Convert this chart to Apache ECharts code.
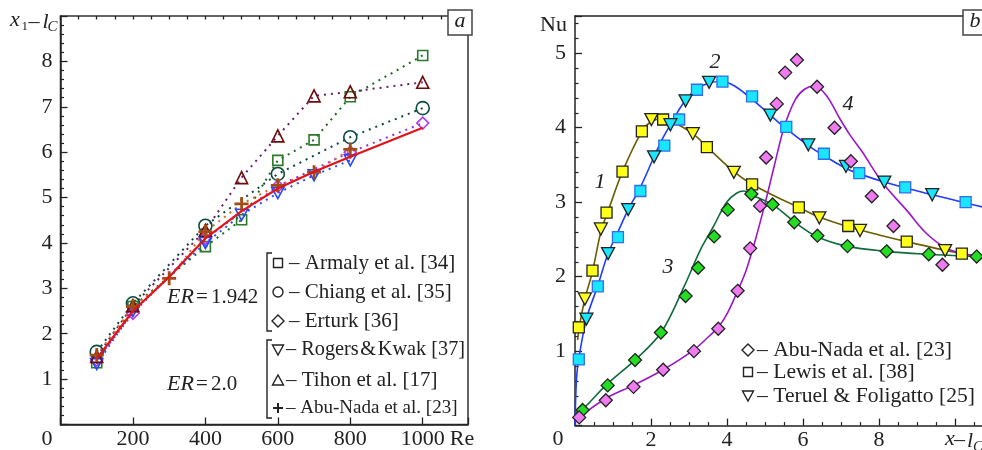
<!DOCTYPE html>
<html><head><meta charset="utf-8">
<script src="https://cdn.jsdelivr.net/npm/echarts@6/dist/echarts.min.js"></script>
<style>html,body{margin:0;padding:0;background:#fff}#c{width:982px;height:450px}</style>
</head><body><div id="c"></div>
<script>
// ---------- Panel a : x1 - lC versus Re ----------
const reArmaly = [100,200,400,500,600,700,800,1000];
const armaly   = [1.36,2.6,3.92,4.51,5.82,6.27,7.22,8.13];
const reChiang = [100,200,400,600,800,1000];
const chiang   = [1.6,2.67,4.38,5.52,6.33,6.97];
const reErturk = [100,200,400,600,800,1000];
const erturk   = [1.42,2.45,4.1,5.25,6.0,6.64];
const reRogers = [100,200,400,500,600,700,800];
const rogers   = [1.33,2.5,4.0,4.62,5.1,5.49,5.82];
const reTihon  = [100,200,400,500,600,700,800,1000];
const tihon    = [1.5,2.62,4.28,5.44,6.36,7.24,7.33,7.54];
const reAbuNada = [100,200,300,400,500,600,700,800];
const abuNada   = [1.53,2.6,3.22,4.25,4.86,5.27,5.56,6.06];
const rePresent = [100,200,300,400,500,600,700,800,1000];
const present   = [1.45,2.5,3.25,4.1,4.7,5.2,5.57,5.9,6.54];
const reTicks = [200,400,600,800,1000];
const aTicks  = [1,2,3,4,5,6,7,8];

// ---------- Panel b : Nu versus x - lC ----------
const sq1X = [0.1,0.46,0.83,1.25,1.76,2.32,3.47,4.66,5.89,7.19,8.73,10.18];
const sq1Y = [1.32,2.08,2.86,3.41,3.95,4.11,3.74,3.24,2.93,2.68,2.47,2.31];
const tr1X = [0.26,0.68,2.01,3.10,4.18,6.43,7.5,9.74];
const tr1Y = [1.70,2.64,4.11,3.92,3.40,2.79,2.62,2.35];
const sq2X = [0.1,0.6,1.13,1.72,2.35,2.74,3.21,3.88,4.66,5.56,6.55,7.48,8.69,10.28];
const sq2Y = [0.89,1.87,2.53,3.15,3.76,4.11,4.51,4.62,4.42,4.01,3.65,3.39,3.20,3.00];
const tr2X = [0.3,0.87,1.40,2.08,2.51,2.91,3.53,5.14,6.14,7.13,8.14,9.40];
const tr2Y = [1.43,2.31,2.90,3.61,4.04,4.36,4.61,4.17,3.77,3.48,3.27,3.10];
const dm3X = [0.2,0.86,1.58,2.26,2.91,3.24,3.66,4.02,4.64,5.2,5.77,6.38,7.17,8.2,9.31,10.57];
const dm3Y = [0.21,0.54,0.88,1.25,1.74,2.12,2.54,2.90,3.11,2.97,2.73,2.55,2.41,2.34,2.30,2.27];
const dm4X = [0.11,0.81,1.54,2.32,3.13,3.77,4.28,4.61,4.87,5.03,5.31,5.53,5.84,6.37,6.83,7.26,7.81,8.38,9.67];
const dm4Y = [0.11,0.34,0.52,0.75,1.00,1.30,1.81,2.38,2.95,3.60,4.32,4.74,4.91,4.55,4.00,3.55,3.08,2.68,2.16];

const c1X = [0.07,0.11,0.26,0.46,0.68,0.85,1.25,1.76,2.0,2.3,2.6,3.1,3.5,4.18,4.66,5.3,5.89,6.43,7.19,8.0,8.73,9.5,10.18,11];
const c1Y = [1.15,1.32,1.70,2.07,2.60,2.85,3.41,3.95,4.08,4.12,4.07,3.92,3.73,3.41,3.24,3.07,2.93,2.80,2.67,2.56,2.47,2.38,2.31,2.25];
const c2X = [0,0.02,0.05,0.1,0.3,0.6,0.87,1.13,1.4,1.72,2.08,2.3,2.51,2.71,2.91,3.2,3.53,3.85,4.2,4.66,5.14,5.5,6.14,6.6,7.15,7.6,8.14,8.7,9.4,10.28,11];
const c2Y = [0,0.4,0.7,0.9,1.43,1.88,2.31,2.6,2.9,3.2,3.61,3.85,4.04,4.22,4.37,4.52,4.60,4.62,4.56,4.38,4.17,4.01,3.76,3.61,3.45,3.36,3.27,3.19,3.10,2.99,2.90];
const c3X = [0,0.2,0.83,1.62,2.28,2.9,3.29,3.64,3.99,4.25,4.45,4.69,5.22,5.79,6.36,7.15,8.2,9.3,10.5,11];
const c3Y = [0.17,0.22,0.55,0.90,1.26,1.90,2.35,2.67,3.0,3.12,3.15,3.09,2.96,2.73,2.54,2.41,2.34,2.30,2.27,2.26];
const c4X = [0,0.13,0.83,1.53,2.32,3.11,3.55,3.77,4.0,4.28,4.5,4.75,5.0,5.25,5.5,5.8,6.05,6.3,6.62,6.97,7.24,7.54,8.11,8.73,9.25,9.78,10.22,10.66,11];
const c4Y = [0.05,0.12,0.37,0.54,0.75,1.01,1.21,1.32,1.5,1.81,2.08,2.5,2.98,3.5,4.0,4.38,4.52,4.56,4.43,4.12,3.90,3.69,3.25,2.89,2.58,2.38,2.31,2.26,2.24];
const xbTicks = [2,4,6,8];
const nuTicks = [1,2,3,4,5];

// ---------- build ----------
const pairs = (xs, ys) => xs.map((x, i) => [x, ys[i]]);
const SERIF = '"Liberation Serif","Times New Roman",serif';
const TXT = '#222';
const AX = '#222';

function dotted(name, xs, ys, sym, size, col, lineCol, filled) {
  return {
    type: 'line', name, xAxisIndex: 0, yAxisIndex: 0, data: pairs(xs, ys),
    symbol: sym, symbolSize: size, showAllSymbol: true, animation: false,
    lineStyle: { color: lineCol, width: 2, type: [2, 5] },
    itemStyle: filled ? { color: col, borderWidth: 0 } : { color: 'rgba(0,0,0,0)', borderColor: col, borderWidth: 1.6 },
    z: 3
  };
}
function markers(xs, ys, sym, size, fill, border) {
  return {
    type: 'scatter', xAxisIndex: 2, yAxisIndex: 1, data: pairs(xs, ys),
    symbol: sym, symbolSize: size, animation: false,
    itemStyle: { color: fill, borderColor: border || '#222', borderWidth: 1.3, opacity: 1 }, z: 5
  };
}
function curve(xs, ys, col) {
  return {
    type: 'line', xAxisIndex: 2, yAxisIndex: 1, data: pairs(xs, ys), smooth: 0.35,
    symbol: 'none', animation: false, lineStyle: { color: col, width: 1.6 }, z: 3
  };
}
const DOWN = 'path://M0,0L10,0L5,9Z';
const PLUS = 'path://M4,0H6V4H10V6H6V10H4V6H0V4H4Z';

const tick = (len) => ({ show: true, inside: true, length: len, lineStyle: { color: AX, width: 1.3 } });
const line = { show: true, lineStyle: { color: AX, width: 1.5 } };
const lbl = (allowed, extra) => Object.assign({
  color: TXT, fontFamily: SERIF, fontSize: 22,
  formatter: v => allowed.some(a => Math.abs(a - v) < 1e-6) ? String(v) : ''
}, extra || {});

const option = {
  animation: false,
  backgroundColor: '#fff',
  grid: [
    { left: 60.5, top: 16, width: 407.5, height: 408.5, show: true, borderColor: '#333', borderWidth: 1.5, backgroundColor: 'rgba(0,0,0,0)', outerBoundsMode: 'none' },
    { left: 575, top: 16, width: 456, height: 409.6, show: false, outerBoundsMode: 'none' }
  ],
  xAxis: [
    { type: 'value', gridIndex: 0, min: 0, max: 1125, interval: 200, axisLine: line, axisTick: tick(7),
      splitLine: { show: false }, axisLabel: lbl(reTicks, { margin: 4 }) },
    { type: 'value', gridIndex: 0, min: 0, max: 1125, interval: 50, axisLine: { show: false }, axisTick: tick(3.5),
      splitLine: { show: false }, axisLabel: { show: false } },
    { type: 'value', gridIndex: 1, min: 0, max: 12, interval: 2, axisLine: line, axisTick: tick(7),
      minorTick: { show: true, splitNumber: 4, length: 3.5, lineStyle: { color: AX, width: 1.2 } },
      splitLine: { show: false }, minorSplitLine: { show: false }, axisLabel: lbl(xbTicks, { margin: 4 }) },
    { type: 'value', gridIndex: 1, min: 0, max: 12, position: 'top', axisLine: line, axisTick: { show: false },
      splitLine: { show: false }, axisLabel: { show: false } }
  ],
  yAxis: [
    { type: 'value', gridIndex: 0, min: 0, max: 9, interval: 1, axisLine: line, axisTick: tick(7),
      minorTick: { show: true, splitNumber: 5, length: 3.5, lineStyle: { color: AX, width: 1.2 } },
      splitLine: { show: false }, minorSplitLine: { show: false }, axisLabel: lbl(aTicks, { margin: 8 }) },
    { type: 'value', gridIndex: 1, min: 0, max: 5.5, interval: 1, axisLine: line, axisTick: tick(7),
      minorTick: { show: true, splitNumber: 5, length: 3.5, lineStyle: { color: AX, width: 1.2 } },
      splitLine: { show: false }, minorSplitLine: { show: false }, axisLabel: lbl(nuTicks, { margin: 9 }) }
  ],
  series: [
    dotted('Armaly et al. [34]', reArmaly, armaly, 'rect', 10, '#2a7a2a', '#1d6b1d'),
    dotted('Chiang et al. [35]', reChiang, chiang, 'circle', 13, '#0b4a3e', '#0b4a3e'),
    dotted('Erturk [36]', reErturk, erturk, 'diamond', 12, '#b13cf0', '#9a2ee0'),
    dotted('Rogers & Kwak [37]', reRogers, rogers, DOWN, [12, 11], '#2648ff', '#2f4cff'),
    dotted('Tihon et al. [17]', reTihon, tihon, 'triangle', 12, '#6e0b0b', '#6a1a6e'),
    dotted('Abu-Nada et al. [23]', reAbuNada, abuNada, PLUS, 14, '#a24c14', '#cf6f2e', true),
    { type: 'line', name: 'present', xAxisIndex: 0, yAxisIndex: 0, data: pairs(rePresent, present),
      symbol: 'none', animation: false, lineStyle: { color: '#e2141a', width: 2.2 }, z: 6 },

    curve(c1X, c1Y, '#6b5e00'),
    curve(c2X, c2Y, '#1f3cff'),
    curve(c3X, c3Y, '#0f6b3c'),
    curve(c4X, c4Y, '#9b17cc'),
    markers(sq1X, sq1Y, 'rect', 11, '#ffff1a'),
    markers(tr1X, tr1Y, DOWN, [13, 12], '#ffff1a'),
    markers(sq2X, sq2Y, 'rect', 11, '#19e6ff', '#2f6df2'),
    markers(tr2X, tr2Y, DOWN, [13, 12], '#19e6ff'),
    markers(dm3X, dm3Y, 'diamond', 13, '#22dd22'),
    markers(dm4X, dm4Y, 'diamond', 13, '#f07af0')
  ],
  graphic: []
};

const G = option.graphic;
const t = (text, x, y, size, opts) => G.push(Object.assign({
  type: 'text', z: 100, silent: true,
  style: Object.assign({ text, x, y, fill: TXT, font: (opts && opts.italic ? 'italic ' : '') + size + 'px ' + SERIF,
    textAlign: (opts && opts.align) || 'left', textVerticalAlign: 'middle' })
}));
const stroke = { stroke: '#222', lineWidth: 1.4, fill: 'none' };

// axis titles & corner zeros
t('x', 10, 20.6, 22, { italic: true });
t('1', 21.5, 26.5, 13);
t('\u2013', 28.5, 21.8, 22);
t('l', 42.5, 22.6, 22, { italic: true });
t('C', 47.5, 27, 15, { italic: true });
t('0', 47, 439, 22, { align: 'center' });
t('Re', 462, 439, 22, { align: 'center' });
t('Nu', 540, 25, 22);
t('0', 558, 439, 22, { align: 'center' });
t('x', 945, 439.6, 22, { italic: true });
t('\u2013', 954, 440.6, 22);
t('l', 967, 441.5, 22, { italic: true });
t('C', 973, 447, 15, { italic: true });

// panel letters
G.push({ type: 'rect', z: 90, shape: { x: 448, y: 10, width: 24, height: 25 }, style: { fill: '#fff', stroke: '#444', lineWidth: 1.5 } });
t('a', 460, 21.5, 22, { italic: true, align: 'center' });
G.push({ type: 'rect', z: 90, shape: { x: 963, y: 10, width: 30, height: 25 }, style: { fill: '#fff', stroke: '#444', lineWidth: 1.5 } });
t('b', 975, 21.5, 22, { italic: true, align: 'center' });

// ER labels
t('ER', 167, 297, 22, { italic: true });
t('=', 196, 297, 21);
t('1.942', 211, 297, 21);
t('ER', 167, 384, 22, { italic: true });
t('=', 196, 384, 21);
t('2.0', 211, 384, 21);

// panel a legend
G.push({ type: 'polyline', z: 95, shape: { points: [[272, 253], [267, 253], [267, 331], [272, 331]] }, style: Object.assign({}, stroke) });
G.push({ type: 'polyline', z: 95, shape: { points: [[272, 340], [267, 340], [267, 418], [272, 418]] }, style: Object.assign({}, stroke) });
const rowsA = [263, 292, 321, 350, 380, 408];
const textsA = ['\u2013 Armaly et al. [34]', '\u2013 Chiang et al. [35]', '\u2013 Erturk [36]',
  '\u2013 Rogers\u200A&\u200AKwak [37]', '\u2013 Tihon et al. [17]', '\u2013 Abu-Nada et al. [23]'];
const sizesA = [21, 21, 21, 20.3, 21, 19];
rowsA.forEach((y, i) => t(textsA[i], i < 3 ? 289 : 286, y, sizesA[i]));
const mx = 278;
G.push({ type: 'rect', z: 95, shape: { x: mx - 4.5, y: rowsA[0] - 4.5, width: 9, height: 9 }, style: Object.assign({}, stroke) });
G.push({ type: 'circle', z: 95, shape: { cx: mx, cy: rowsA[1], r: 5 }, style: Object.assign({}, stroke) });
G.push({ type: 'polygon', z: 95, shape: { points: [[mx, rowsA[2] - 6], [mx + 6, rowsA[2]], [mx, rowsA[2] + 6], [mx - 6, rowsA[2]]] }, style: Object.assign({}, stroke) });
G.push({ type: 'polygon', z: 95, shape: { points: [[mx - 5.5, rowsA[3] - 5], [mx + 5.5, rowsA[3] - 5], [mx, rowsA[3] + 5]] }, style: Object.assign({}, stroke) });
G.push({ type: 'polygon', z: 95, shape: { points: [[mx - 5.5, rowsA[4] + 5], [mx + 5.5, rowsA[4] + 5], [mx, rowsA[4] - 5]] }, style: Object.assign({}, stroke) });
G.push({ type: 'line', z: 95, shape: { x1: mx - 5, y1: rowsA[5], x2: mx + 5, y2: rowsA[5] }, style: { stroke: '#222', lineWidth: 2 } });
G.push({ type: 'line', z: 95, shape: { x1: mx, y1: rowsA[5] - 5, x2: mx, y2: rowsA[5] + 5 }, style: { stroke: '#222', lineWidth: 2 } });

// panel b legend
const rowsB = [350, 372, 396];
const textsB = ['\u2013 Abu-Nada et al. [23]', '\u2013 Lewis et al. [38]', '\u2013 Teruel & Foligatto [25]'];
rowsB.forEach((y, i) => t(textsB[i], 757, y, 21.6));
const bx = 748;
G.push({ type: 'polygon', z: 95, shape: { points: [[bx, rowsB[0] - 6], [bx + 6, rowsB[0]], [bx, rowsB[0] + 6], [bx - 6, rowsB[0]]] }, style: Object.assign({}, stroke) });
G.push({ type: 'rect', z: 95, shape: { x: bx - 4.5, y: rowsB[1] - 4.5, width: 9, height: 9 }, style: Object.assign({}, stroke) });
G.push({ type: 'polygon', z: 95, shape: { points: [[bx - 5.5, rowsB[2] - 5], [bx + 5.5, rowsB[2] - 5], [bx, rowsB[2] + 5]] }, style: Object.assign({}, stroke) });

// curve numbers
t('1', 600, 182, 22, { italic: true, align: 'center' });
t('2', 715, 62, 22, { italic: true, align: 'center' });
t('3', 668, 267, 22, { italic: true, align: 'center' });
t('4', 848, 104, 22, { italic: true, align: 'center' });

const chart = echarts.init(document.getElementById('c'), null, { renderer: 'canvas' });
chart.setOption(option);
</script></body></html>
